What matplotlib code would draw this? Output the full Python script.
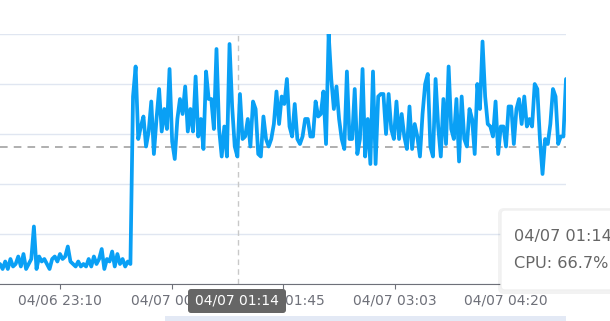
import matplotlib.pyplot as plt
import pandas as pd
from matplotlib.patches import FancyBboxPatch, Rectangle

# CPU usage (%), evenly spaced in time
cpu_idle = [8, 6, 9, 6, 10, 7, 8, 11, 7, 12, 6, 8, 10, 23, 6, 11, 9, 10, 8, 6,
            10, 11, 9, 12, 10, 11, 15, 9, 8, 7, 9, 7, 8, 7, 10, 7, 11, 8, 10, 14,
            6, 10, 9, 13, 7, 12, 8, 10, 7, 9, 8]
cpu_busy = [75, 87, 58, 63, 67, 55, 61, 73, 52, 66, 78, 61, 70, 62, 86, 57, 50, 66, 74, 68,
            79, 61, 70, 61, 83, 59, 66, 54, 85, 74, 74, 62,
            94, 62, 51, 63, 51, 96, 71, 55, 51, 76, 58, 59, 66, 55, 73, 70, 52, 51,
            67, 58, 55, 58, 64, 77, 64, 75, 72, 82, 63, 59, 72, 58, 56, 59,
            66, 66, 59, 59, 73, 67, 68, 77, 56, 100, 82, 70, 79, 66, 58, 54, 85, 58,
            58, 78, 52, 58, 86, 51, 66, 48, 85, 48, 75, 76, 76, 60,
            76, 62, 58, 73, 58, 68, 59, 54, 71, 54, 64, 59, 51, 68, 80, 84, 55, 51,
            82, 63, 51, 74, 56, 87, 62, 58, 74, 49, 75, 58, 55, 70, 66, 52, 80, 70,
            97, 75, 64, 63, 59, 73, 52, 63, 63, 55, 71, 71, 56, 70, 74, 64, 75, 63,
            66, 63, 80, 78, 58, 44, 58, 56, 64, 78, 75, 56, 59, 59, 82]
cpu = cpu_idle + cpu_busy

start_time = '2024-04-06 22:28'
end_time = '2024-04-07 05:02'

tick_times = ['2024-04-06 23:10', '2024-04-07 00:28', '2024-04-07 01:45',
              '2024-04-07 03:03', '2024-04-07 04:20']
tick_labels = ['04/06 23:10', '04/07 00:28', '04/07 01:45', '04/07 03:03', '04/07 04:20']

# hover state shown in the screenshot
pointer_time = '2024-04-07 01:14'
pointer_level = 55
pointer_label = '04/07 01:14'
tooltip_value = 66.7

times = pd.date_range(start_time, end_time, periods=len(cpu))

fig = plt.figure(figsize=(6.1, 3.21), dpi=100)
ax = fig.add_axes([0, 37 / 321, 566 / 610, 250 / 321])

ax.plot(times, cpu, color='#0aa0f5', lw=2.7, solid_joinstyle='round',
        solid_capstyle='round', zorder=3)
ax.axvline(pd.Timestamp(pointer_time), color='#c8c8c8', lw=1, ls=(0, (4, 3)), zorder=2)
ax.axhline(pointer_level, color='#9a9a9a', lw=1.1, ls=(0, (5, 4)), zorder=2)

ax.set_ylim(0, 100)
ax.set_yticks(range(0, 101, 20))
ax.set_yticklabels([])
ax.tick_params(axis='y', length=0)
ax.grid(axis='y', color='#e0e6f1', lw=1, zorder=1)

ax.set_xlim(times[0], times[-1])
ax.set_xticks(pd.to_datetime(tick_times))
ax.set_xticklabels(tick_labels)
ax.tick_params(axis='x', length=3.6, color='#6e7079', labelcolor='#6e7079',
               labelsize=10, pad=3)
for s in ['top', 'right', 'left']:
    ax.spines[s].set_visible(False)
ax.spines['bottom'].set_color('#6e7079')

# overlay in pixel units for the tooltip bits
ov = fig.add_axes([0, 0, 1, 1])
ov.set_xlim(0, 610)
ov.set_ylim(321, 0)
ov.axis('off')

# slider strip at the bottom
ov.add_patch(Rectangle((165, 316), 401, 6, fc='#e3e9f5', ec='none'))

# x pointer label
ov.add_patch(FancyBboxPatch((188, 289), 98, 24, boxstyle='round,pad=0,rounding_size=3',
                            fc='#666666', ec='none'))
ov.text(237, 301, pointer_label, color='white', fontsize=10, ha='center', va='center')

# tooltip box
ov.add_patch(FancyBboxPatch((498, 208), 130, 86, boxstyle='round,pad=0,rounding_size=6',
                            fc='#000000', ec='none', alpha=0.05))
ov.add_patch(FancyBboxPatch((501, 210), 130, 80, boxstyle='round,pad=0,rounding_size=4',
                            fc='white', ec='#f0f0f0'))
ov.text(514, 237, pointer_label, color='#666666', fontsize=11.6, va='center')
ov.text(514, 263, 'CPU: %.1f%%' % tooltip_value, color='#666666', fontsize=11.6, va='center')

fig.savefig('out.png', dpi=100)
